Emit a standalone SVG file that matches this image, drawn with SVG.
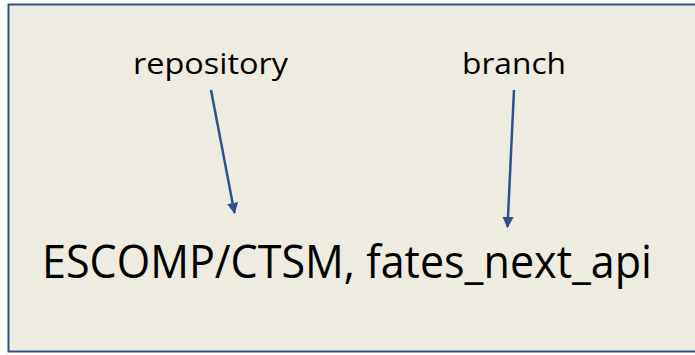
<svg xmlns="http://www.w3.org/2000/svg" width="695" height="355" viewBox="0 0 695 355">
<style>
.lbl{font-family:"Open Sans","Liberation Sans",sans-serif;fill:#000}
.conn{stroke:#2F528F;stroke-width:2.5;fill:none}
</style>
<defs>
<marker id="ah" viewBox="0 0 10 10" refX="9" refY="5" markerWidth="4.5" markerHeight="4.5" orient="auto" markerUnits="strokeWidth">
<path d="M0,0 L10,5 L0,10 z" fill="#2F528F"/>
</marker>
</defs>
<rect x="8.5" y="4.5" width="690" height="347" fill="#EEEBE1" stroke="#2F528F" stroke-width="2"/>
<g id="repository"><text class="lbl" x="133" y="74" font-size="29" textLength="155" lengthAdjust="spacingAndGlyphs">repository</text></g>
<g id="branch"><text class="lbl" x="462" y="74" font-size="29" textLength="104" lengthAdjust="spacingAndGlyphs">branch</text></g>
<g id="main"><text class="lbl" x="42" y="278" font-size="46" textLength="610" lengthAdjust="spacingAndGlyphs">ESCOMP/CTSM, fates_next_api</text></g>
<g id="connectors">
<line class="conn" x1="211" y1="90" x2="234.5" y2="213" marker-end="url(#ah)"/>
<line class="conn" x1="514" y1="90" x2="507.5" y2="227" marker-end="url(#ah)"/>
</g>
</svg>
